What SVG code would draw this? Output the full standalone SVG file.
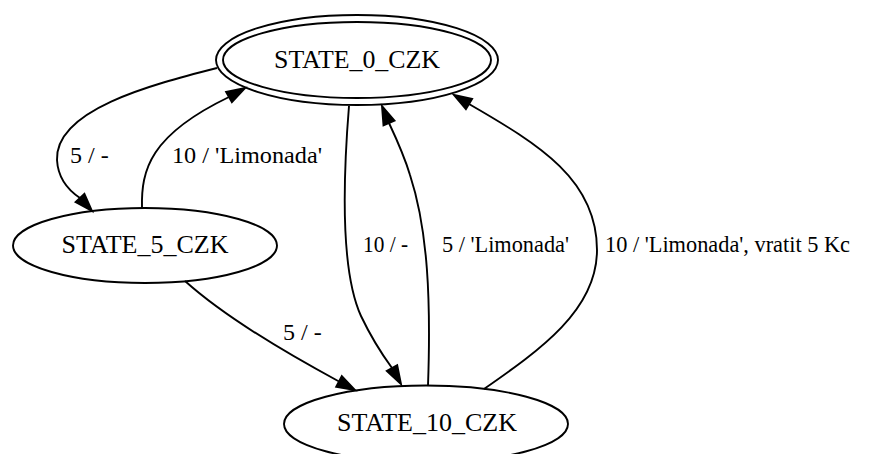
<svg xmlns="http://www.w3.org/2000/svg" width="885" height="454" viewBox="0 0 885 454">
<style>
.node ellipse{fill:none;stroke:#000;stroke-width:1.9}
.edge path{fill:none;stroke:#000;stroke-width:1.9}
.edge polygon{fill:#000;stroke:#000;stroke-width:1.9}
text{font-family:"Liberation Serif","Times New Roman",serif;font-size:24px;fill:#000}
.nl{text-anchor:middle;font-size:25px}
</style>
<rect width="885" height="454" fill="#fff"/>
<g id="STATE_0_CZK" class="node">
<ellipse cx="357" cy="60" rx="141" ry="45"/>
<ellipse cx="357" cy="60" rx="134" ry="38"/>
<text class="nl" x="357" y="68" textLength="166" lengthAdjust="spacingAndGlyphs">STATE_0_CZK</text>
</g>
<g id="STATE_5_CZK" class="node">
<ellipse cx="145" cy="245.5" rx="132" ry="37.5"/>
<text class="nl" x="145" y="253" textLength="167" lengthAdjust="spacingAndGlyphs">STATE_5_CZK</text>
</g>
<g id="STATE_10_CZK" class="node">
<ellipse cx="426" cy="424" rx="142" ry="38.5"/>
<text class="nl" x="427" y="431" textLength="180" lengthAdjust="spacingAndGlyphs">STATE_10_CZK</text>
</g>
<g id="edges">
<g class="edge" id="e_0_5">
<path d="M217,68 C150,85 55,110 57,160 C58,178 68,190 80,198"/>
<polygon points="92,211 75.6,202.1 84.4,193.9"/>
<text x="70" y="163">5 / -</text>
</g>
<g class="edge" id="e_5_0">
<path d="M142,208 C141,170 150,135 229,97"/>
<polygon points="245,88 231.9,102.2 226.1,91.8"/>
<text x="172" y="163" textLength="150" lengthAdjust="spacingAndGlyphs">10 / 'Limonada'</text>
</g>
<g class="edge" id="e_0_10">
<path d="M349,106 C343,180 340,270 361,316 C371,337 381,353 392,368"/>
<polygon points="401,384 386.8,370.9 397.2,365.1"/>
<text x="363" y="252" textLength="45" lengthAdjust="spacingAndGlyphs">10 / -</text>
</g>
<g class="edge" id="e_10_0_a">
<path d="M428,386 C431,300 428,230 410,175 C404,155 397,140 389,123"/>
<polygon points="382,106 394.5,120.7 383.5,125.3"/>
<text x="442" y="252" textLength="127" lengthAdjust="spacingAndGlyphs">5 / 'Limonada'</text>
</g>
<g class="edge" id="e_10_0_b">
<path d="M484,389 C540,350 597,310 597,250 C597,180 540,145 469,104"/>
<polygon points="454,95 472.1,98.9 465.9,109.1"/>
<text x="605" y="252" textLength="245" lengthAdjust="spacingAndGlyphs">10 / 'Limonada', vratit 5 Kc</text>
</g>
<g class="edge" id="e_5_10">
<path d="M185,281 C215,308 262,340 339,381.5"/>
<polygon points="355,390 336.2,386.8 341.8,376.2"/>
<text x="283" y="340">5 / -</text>
</g>
</g>
</svg>
